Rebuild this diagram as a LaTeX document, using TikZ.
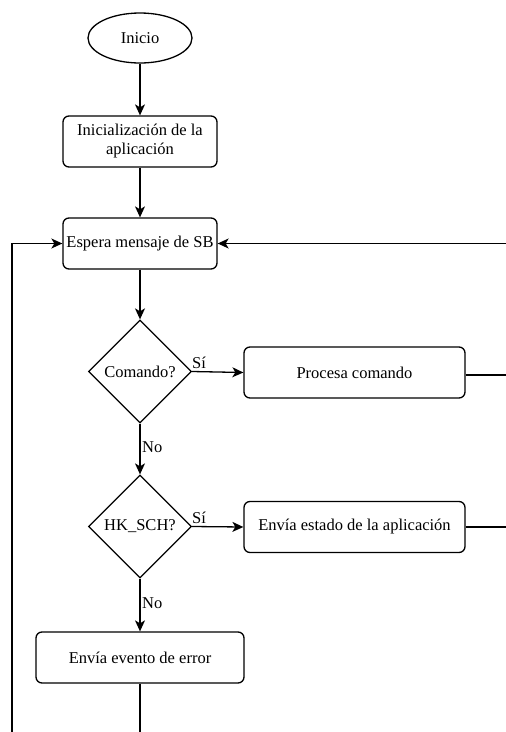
\documentclass[tikz,border=0pt]{standalone}
\usepackage{fontspec}
\setmainfont{Liberation Serif}
\newfontfamily\flowfont{Liberation Serif}
\usetikzlibrary{shapes.geometric,arrows.meta}
\begin{document}
\begin{tikzpicture}[x=1pt,y=-1pt,
  every node/.style={font=\flowfont\fontsize{16.5}{19}\selectfont},
  proc/.style={draw,line width=1.3pt,rounded corners=6pt,minimum height=51pt,inner sep=2pt,align=center},
  term/.style={draw,line width=1.3pt,ellipse,minimum width=104pt,minimum height=50pt,inner sep=0pt},
  decision/.style={draw,line width=1.3pt,diamond,minimum width=103pt,minimum height=103pt,inner sep=0pt,aspect=1},
  flow/.style={line width=1.3pt,-{Stealth[length=11pt,width=10pt,inset=3pt]}},
  link/.style={line width=1.3pt},
  lbl/.style={inner sep=1pt}]
\useasboundingbox (0,0) rectangle (506,732);
\clip (0,0) rectangle (506,732);

% nodes
\node[term] (inicio) at (140,38) {Inicio};
\node[proc,minimum width=154pt] (init) at (140,141.5) {Inicialización de la\\aplicación};
\node[proc,minimum width=154pt] (espera) at (140,243.5) {Espera mensaje de SB};
\node[decision] (cmd) at (140,371.5) {Comando?};
\node[proc,minimum width=221pt] (procesa) at (354.5,372.5) {Procesa comando};
\node[decision] (hk) at (140,526.5) {HK\_SCH?};
\node[proc,minimum width=221pt] (estado) at (354.5,527) {Envía estado de la aplicación};
\node[proc,minimum width=208pt] (error) at (140,657.5) {Envía evento de error};

% return route coordinates (beyond the visible frame)
\coordinate (rtop) at (520,243.5);
\coordinate (rmid) at (520,375);
\coordinate (rlow) at (520,527);
\coordinate (lbot) at (140,745);
\coordinate (lcorner) at (12,745);
\coordinate (ltop) at (12,243.5);

% main flow
\draw[flow] (inicio) -- (init);
\draw[flow] (init) -- (espera);
\draw[flow] (espera) -- (cmd);
\draw[flow] (cmd.east) -- (procesa.west);
\draw[flow] (cmd.south) -- (hk.north);
\draw[flow] (hk.east) -- (estado.west);
\draw[flow] (hk.south) -- (error.north);

% loops back to waiting
\draw[link] (procesa.east |- rmid) -- (rmid);
\draw[link] (estado.east) -- (rlow) -- (rtop);
\draw[flow] (rtop) -- (espera.east);
\draw[flow] (error.south) -- (lbot) -- (lcorner) -- (ltop) -- (espera.west);

% branch labels
\node[lbl,anchor=south west] (si1) at (191,370) {Sí};
\node[lbl,anchor=west] (no1) at (141,447) {No};
\node[lbl,anchor=south west] (si2) at (191,525) {Sí};
\node[lbl,anchor=west] (no2) at (141,603) {No};
\end{tikzpicture}
\end{document}
